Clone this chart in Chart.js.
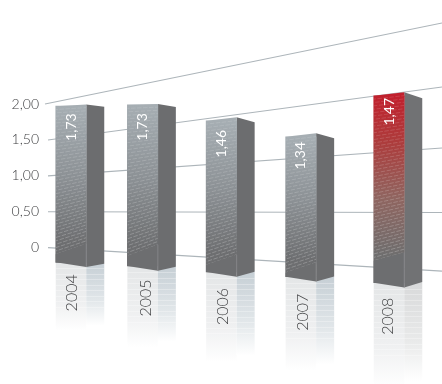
<!DOCTYPE html>
<html>
<head>
<meta charset="utf-8">
<title>Chart</title>
<script src="https://cdn.jsdelivr.net/npm/chart.js@4"></script>
<style>
  html, body { margin: 0; padding: 0; background: #fff; }
  canvas { display: block; }
</style>
</head>
<body>
<canvas id="bars" width="442" height="384"></canvas>
<script>
// data
const years = ['2004', '2005', '2006', '2007', '2008']
const values = [1.73, 1.73, 1.46, 1.34, 1.47]
const yTicks = [0, 0.5, 1, 1.5, 2]
// where each gridline ends at the right edge, in axis units (they fan out)
const gridRightEnds = [-0.327, 0.49, 1.387, 2.237, 3.13]

// perspective layout, the bars stand in front of the axis plane
const barCentres = [71, 142.6, 221.4, 300.9, 389]
const barFloor = [-0.205, -0.256, -0.34, -0.405, -0.489]
const barStretch = [1.258, 1.297, 1.444, 1.455, 1.772]
const foldRise = [1.7, 1, 3.4, 3.4, 3.4]
const sideDrop = [2.4, 3, 5, 5, 6]
const sideRise = [3.4, 4, 5, 5, 5.4]
const floorLeft = [8, 10, 7, 4, 22]
const floorFold = [23, 26, 22, 19, 35]
const mirrorLength = [68, 81, 90, 94, 105]
const labelDown = [21, 22, 23, 19, 16]
const yearDown = [30.5, 32, 34.5, 35.5, 33.5]
const yearShift = [0.7, 3.5, 1.6, 1.8, -1]
const BAR_WIDTH = 30.5
const FOLD_DROP = 4.7
const SIDE_WIDTH = 18
const HIGHLIGHT = 4

const GREY_SIDE = '#6c6d6f'
const FONT = 'Lato, "Open Sans", sans-serif'

function poly(ctx, pts) {
  ctx.beginPath()
  pts.forEach((p, i) => i ? ctx.lineTo(p[0], p[1]) : ctx.moveTo(p[0], p[1]))
  ctx.closePath()
}

// rect of a bar from the library plus the corner points of its 3d faces
function faces(bar, i) {
  const l = bar.x - bar.width / 2
  const f = bar.x + bar.width / 2
  const r = f + SIDE_WIDTH
  const top = bar.y
  const bot = bar.base
  return {
    l, f, r, top, bot,
    foldTop: top - foldRise[i],
    foldBot: bot + FOLD_DROP,
    sideTop: top - foldRise[i] + sideDrop[i],
    sideBot: bot + FOLD_DROP - sideRise[i]
  }
}

function frontFill(c) {
  const i = c.dataIndex
  const { ctx, scales: { y } } = c.chart
  if (i === undefined) return '#8f9497'
  const top = y.getPixelForValue(barFloor[i] + values[i] * barStretch[i])
  const bot = y.getPixelForValue(barFloor[i])
  if (!isFinite(top) || !isFinite(bot)) return '#8f9497'
  const g = ctx.createLinearGradient(0, top, 0, bot)
  if (i === HIGHLIGHT) {
    g.addColorStop(0, '#c1202d')
    g.addColorStop(0.25, '#ad3c3c')
    g.addColorStop(0.55, '#8f6560')
    g.addColorStop(0.85, '#6f6e6e')
    g.addColorStop(1, '#6d6e70')
  } else {
    g.addColorStop(0, '#a6aeb3')
    g.addColorStop(0.45, '#8c9195')
    g.addColorStop(0.88, '#6d6e70')
  }
  return g
}

const solidPlugin = {
  id: 'solid',
  beforeDatasetDraw(chart, args) {
    if (args.index !== 0) return
    const ctx = chart.ctx
    const meta = chart.getDatasetMeta(0)
    meta.data.forEach((bar, i) => {
      const s = faces(bar, i)
      const len = mirrorLength[i]
      ctx.save()
      // mirror image under the bar
      let g = ctx.createLinearGradient(0, s.bot, 0, s.bot + len)
      g.addColorStop(0, '#e4e6e7')
      g.addColorStop(0.6, '#eff0f1')
      g.addColorStop(1, '#ffffff')
      ctx.fillStyle = g
      ctx.fillRect(s.l, s.bot, s.f - s.l, len)
      g = ctx.createLinearGradient(0, s.sideBot, 0, s.sideBot + len - 6)
      g.addColorStop(0, i === HIGHLIGHT ? '#d8d9da' : '#c6cfd5')
      g.addColorStop(0.6, i === HIGHLIGHT ? '#e9eaea' : '#e2e7ea')
      g.addColorStop(1, '#ffffff')
      ctx.fillStyle = g
      ctx.fillRect(s.f, s.sideBot, s.r - s.f, len - 6)
      ctx.fillStyle = 'rgba(255,255,255,0.3)'
      for (let y = s.bot + 6; y < s.bot + len * 0.7; y += 5.5) {
        ctx.fillRect(s.l, Math.round(y), s.r - s.l, 1)
      }
      // side face
      poly(ctx, [[s.f, s.foldTop], [s.r, s.sideTop], [s.r, s.sideBot], [s.f, s.foldBot]])
      ctx.fillStyle = i === HIGHLIGHT ? '#717274' : GREY_SIDE
      ctx.fill()
      ctx.restore()
    })
  },
  afterDatasetDraw(chart, args) {
    if (args.index !== 0) return
    const ctx = chart.ctx
    const meta = chart.getDatasetMeta(0)
    meta.data.forEach((bar, i) => {
      const s = faces(bar, i)
      const hatchL = s.bot - floorLeft[i]
      const hatchF = s.foldBot - floorFold[i]
      ctx.save()
      // wedge on top of the front face
      poly(ctx, [[s.l, s.top], [s.f, s.foldTop], [s.f, s.top + 1]])
      ctx.fillStyle = i === HIGHLIGHT ? '#c1202d' : '#a6aeb3'
      ctx.fill()
      // hatching, it swings from the top edge to the floor line
      ctx.save()
      poly(ctx, [[s.l, s.top], [s.f, s.foldTop], [s.f, hatchF], [s.l, hatchL]])
      ctx.clip()
      ctx.lineWidth = 0.9
      ctx.setLineDash([4.5, 1.5])
      const rows = Math.round((hatchL - s.top) / 3.4)
      for (let n = 1; n <= rows; n++) {
        const t = n / rows
        ctx.strokeStyle = 'rgba(255,255,255,' + (0.14 + 0.12 * t) + ')'
        ctx.lineDashOffset = n * 2.3
        ctx.beginPath()
        ctx.moveTo(s.l, s.top + (hatchL - s.top) * t)
        ctx.lineTo(s.f, s.foldTop + (hatchF - s.foldTop) * t)
        ctx.stroke()
      }
      ctx.restore()
      // dark floor part of the front face
      poly(ctx, [[s.l, hatchL], [s.f, hatchF], [s.f, s.foldBot], [s.l, s.bot]])
      ctx.fillStyle = '#6d6e70'
      ctx.fill()
      // fold
      ctx.strokeStyle = '#8b8c8e'
      ctx.lineWidth = 0.8
      ctx.beginPath()
      ctx.moveTo(s.f, hatchF)
      ctx.lineTo(s.f, s.foldBot)
      ctx.stroke()
      ctx.textAlign = 'center'
      ctx.textBaseline = 'middle'
      // value on the bar
      ctx.save()
      ctx.translate(bar.x, s.top + labelDown[i])
      ctx.rotate(-Math.PI / 2)
      ctx.font = '400 14px ' + FONT
      ctx.fillStyle = '#ffffff'
      ctx.fillText(values[i].toFixed(2).replace('.', ','), 0, 0)
      ctx.restore()
      // year in the mirror image
      ctx.save()
      ctx.translate(bar.x + yearShift[i], s.bot + yearDown[i])
      ctx.rotate(-Math.PI / 2)
      ctx.font = '300 16px ' + FONT
      ctx.fillStyle = '#3c3d3f'
      ctx.fillText(years[i], 0, 0)
      ctx.restore()
      ctx.restore()
    })
  }
}

const gridSets = yTicks.map((t, i) => ({
  type: 'line',
  order: 2,
  data: [{ x: t === 2 ? 45 : 48, y: t }, { x: 442, y: gridRightEnds[i] }],
  borderColor: '#adb5ba',
  borderWidth: 1.1,
  pointRadius: 0,
  tension: 0
}))

new Chart(document.getElementById('bars'), {
  data: {
    datasets: [{
      type: 'bar',
      order: 1,
      data: years.map((_, i) => ({
        x: barCentres[i],
        y: [barFloor[i], barFloor[i] + values[i] * barStretch[i]]
      })),
      barThickness: BAR_WIDTH,
      backgroundColor: frontFill,
      borderWidth: 0
    }, ...gridSets]
  },
  plugins: [solidPlugin],
  options: {
    responsive: false,
    animation: false,
    layout: { padding: 0, autoPadding: false },
    plugins: { legend: { display: false }, tooltip: { enabled: false } },
    scales: {
      x: { type: 'linear', min: 44, max: 442, offset: false, display: false },
      y: {
        type: 'linear',
        min: -1.9,
        max: 3.45,
        afterBuildTicks: axis => { axis.ticks = yTicks.map(value => ({ value })) },
        afterFit: axis => {
          axis.width = 44
          axis.paddingTop = 0
          axis.paddingBottom = 0
        },
        grid: { display: false, drawTicks: false },
        border: { display: false },
        ticks: {
          padding: 5,
          autoSkip: false,
          font: { family: FONT, size: 14, weight: '300' },
          color: '#3c3d3f',
          callback: v => v === 0 ? '0' : v.toFixed(2).replace('.', ',')
        }
      }
    }
  }
})
</script>
</body>
</html>
